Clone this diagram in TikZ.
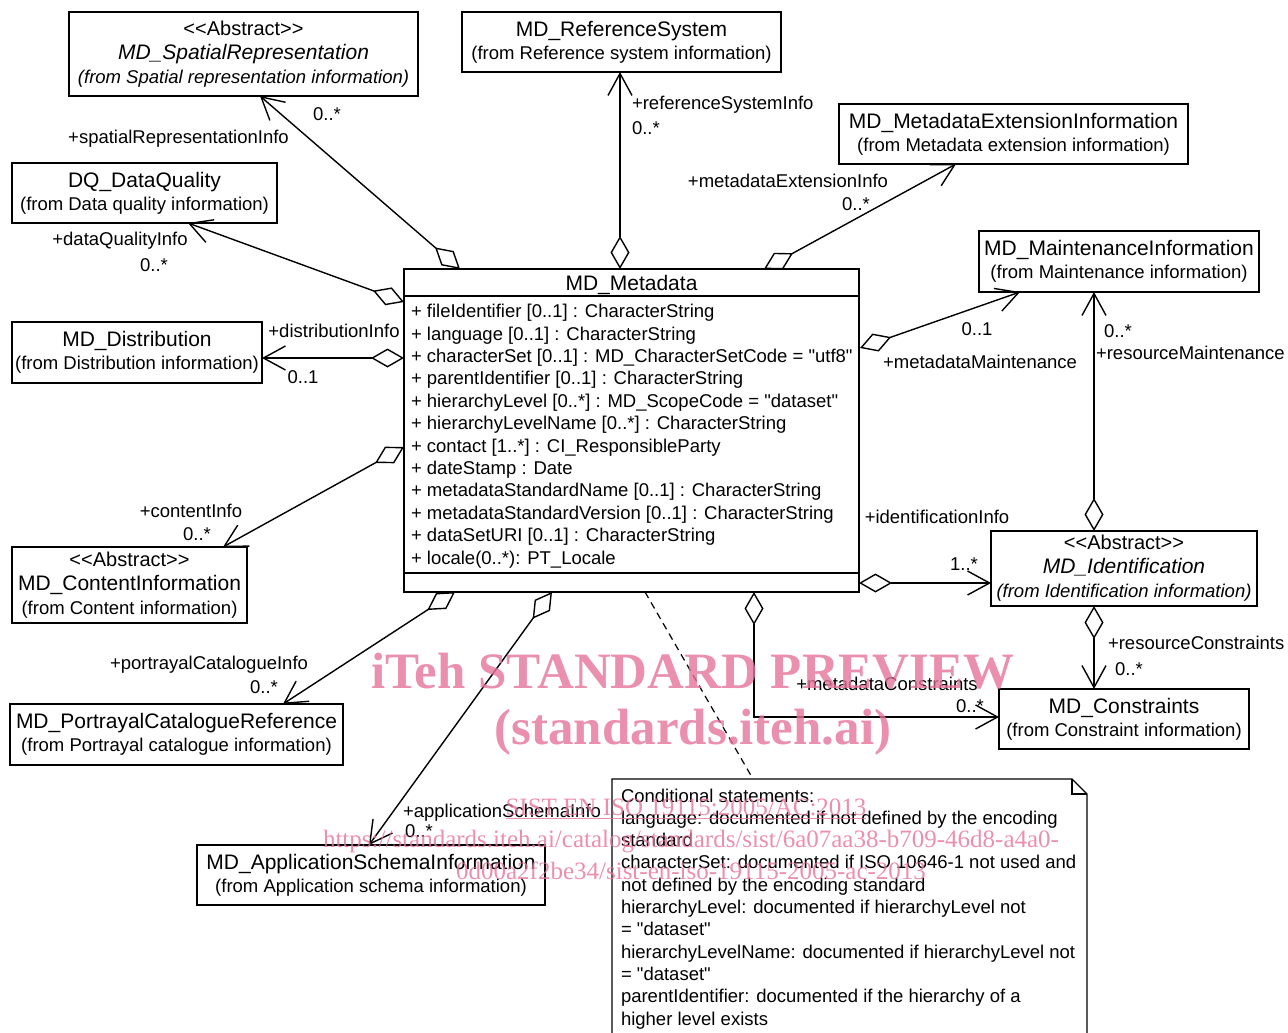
\documentclass[tikz,border=0pt]{standalone}
\usepackage{fontspec}
\newfontfamily\umlf{Liberation Sans}
\newfontfamily\wmf{Liberation Serif}
\usetikzlibrary{arrows.meta,calc}
\definecolor{wmpink}{RGB}{230,115,155}
\begin{document}
\begin{tikzpicture}[x=1pt,y=-1pt,
  every node/.style={font=\umlf\fontsize{18.5}{23}\selectfont, inner sep=0pt, outer sep=0pt},
  cls/.style={draw, line width=1.4pt, align=center, anchor=north west},
  cls3/.style={cls, font=\umlf\fontsize{18.5}{24}\selectfont},
  assoc/.style={line width=1.4pt, {Diamond[open,length=33pt,width=19pt]}-{Straight Barb[length=22pt,width=24pt]}},
  wmbig/.style={text=wmpink, opacity=0.8, font=\wmf\bfseries\fontsize{51}{51}\selectfont},
  wmsmall/.style={text=wmpink, opacity=0.8, font=\wmf\fontsize{25}{25}\selectfont},
]
\useasboundingbox (0,0) rectangle (1288,1033);

% ---------- classes ----------
\node[cls3, minimum width=349pt, minimum height=84pt] (spatial) at (69,12)
  {{\fontsize{20}{24}\selectfont <\kern0pt<Abstract>\kern0pt>}\\{\fontsize{21}{24}\selectfont\itshape MD\_SpatialRepresentation}\\\itshape (from Spatial representation information)};
\node[cls, minimum width=319pt, minimum height=60pt] (refsys) at (462,12)
  {{\fontsize{21}{23}\selectfont MD\_ReferenceSystem}\\(from Reference system information)};
\node[cls, minimum width=349pt, minimum height=60pt] (ext) at (839,104)
  {{\fontsize{21}{23}\selectfont MD\_MetadataExtensionInformation}\\(from Metadata extension information)};
\node[cls, minimum width=265pt, minimum height=60pt] (dq) at (12,163)
  {{\fontsize{21}{23}\selectfont DQ\_DataQuality}\\(from Data quality information)};
\node[cls, minimum width=280pt, minimum height=61pt] (maint) at (979,231)
  {{\fontsize{21}{23}\selectfont MD\_MaintenanceInformation}\\(from Maintenance information)};
\node[cls, minimum width=250pt, minimum height=61pt] (dist) at (12,322)
  {{\fontsize{21}{23}\selectfont MD\_Distribution}\\(from Distribution information)};
\node[cls3, minimum width=235pt, minimum height=76pt] (content) at (12,547)
  {{\fontsize{20}{24}\selectfont <\kern0pt<Abstract>\kern0pt>}\\{\fontsize{21}{24}\selectfont MD\_ContentInformation}\\(from Content information)};
\node[cls3, minimum width=266pt, minimum height=75pt] (ident) at (991,531)
  {{\fontsize{20}{24}\selectfont <\kern0pt<Abstract>\kern0pt>}\\{\fontsize{21}{24}\selectfont\itshape MD\_Identification}\\\itshape (from Identification information)};
\node[cls, minimum width=250pt, minimum height=60pt] (constr) at (999,689)
  {{\fontsize{21}{23}\selectfont MD\_Constraints}\\(from Constraint information)};
\node[cls, minimum width=333pt, minimum height=61pt] (portr) at (10,704)
  {{\fontsize{21}{23}\selectfont MD\_PortrayalCatalogueReference}\\(from Portrayal catalogue information)};
\node[cls, minimum width=348pt, minimum height=60pt] (app) at (197,845)
  {{\fontsize{21}{23}\selectfont MD\_ApplicationSchemaInformation}\\(from Application schema information)};

% ---------- MD_Metadata ----------
\node[cls, minimum width=455pt, minimum height=323pt] (meta) at (404,269) {};
\draw[line width=1.4pt] ($(meta.north west)+(0,27)$) -- ($(meta.north east)+(0,27)$);
\draw[line width=1.4pt] ($(meta.north west)+(0,304)$) -- ($(meta.north east)+(0,304)$);
\node[anchor=base, font=\umlf\fontsize{21}{23}\selectfont] (mtitle) at (631.5,290.5) {MD\_Metadata};
\foreach \t [count=\i] in {
  {+ fileIdentifier [0..1] : CharacterString},
  {+ language [0..1] : CharacterString},
  {+ characterSet [0..1] : MD\_CharacterSetCode = "utf8"},
  {+ parentIdentifier [0..1] : CharacterString},
  {+ hierarchyLevel [0..*] : MD\_ScopeCode = "dataset"},
  {+ hierarchyLevelName [0..*] : CharacterString},
  {+ contact [1..*] : CI\_ResponsibleParty},
  {+ dateStamp : Date},
  {+ metadataStandardName [0..1] : CharacterString},
  {+ metadataStandardVersion [0..1] : CharacterString},
  {+ dataSetURI [0..1] : CharacterString},
  {+ locale(0..*): PT\_Locale}}
  \node[anchor=base west] (attr\i) at (411,{317.6+22.4*(\i-1)}) {\t};

% ---------- note ----------
\node[minimum width=475pt, minimum height=270pt, anchor=north west] (note) at (612,779) {};
\draw[line width=1.4pt] (note.south west) -- (note.north west) -- ($(note.north east)+(-15,0)$)
  -- ($(note.north east)+(0,15)$) -- (note.south east);
\draw[line width=1.2pt] ($(note.north east)+(-15,0)$) |- ($(note.north east)+(0,15)$);
\foreach \t [count=\i] in {
  {Conditional statements:},
  {language: documented if not defined by the encoding},
  {standard},
  {characterSet: documented if ISO 10646-1 not used and},
  {not defined by the encoding standard},
  {hierarchyLevel: documented if hierarchyLevel not},
  {= "dataset"},
  {hierarchyLevelName: documented if hierarchyLevel not},
  {= "dataset"},
  {parentIdentifier: documented if the hierarchy of a},
  {higher level exists}}
  \node[anchor=base west] (nt\i) at (621,{802+22.3*(\i-1)}) {\t};

% ---------- connector end points ----------
\coordinate (mA) at ($(meta.north west)+(56,0)$);
\coordinate (tA) at ($(spatial.south west)+(191,0)$);
\coordinate (mB) at ($(meta.north west)+(216,0)$);
\coordinate (tB) at ($(refsys.south west)+(158,0)$);
\coordinate (mC) at ($(meta.north west)+(360,0)$);
\coordinate (tC) at ($(ext.south west)+(117,0)$);
\coordinate (mD) at ($(meta.north west)+(0,33)$);
\coordinate (tD) at ($(dq.south west)+(176,0)$);
\coordinate (mE) at ($(meta.north west)+(0,89)$);
\coordinate (tE) at ($(dist.north east)+(0,36)$);
\coordinate (mF) at ($(meta.north west)+(0,178)$);
\coordinate (tF) at ($(content.north west)+(211,0)$);
\coordinate (mG) at ($(meta.south west)+(51,0)$);
\coordinate (tG) at ($(portr.north west)+(273,0)$);
\coordinate (mH) at ($(meta.south west)+(148,0)$);
\coordinate (tH) at ($(app.north west)+(172,0)$);
\coordinate (mI) at ($(meta.south west)+(350,0)$);
\coordinate (tI) at ($(constr.north west)+(0,28)$);
\coordinate (mJ) at ($(meta.north east)+(0,314)$);
\coordinate (tJ) at ($(ident.north west)+(0,52)$);
\coordinate (mK) at ($(meta.north east)+(1,79)$);
\coordinate (tK) at ($(maint.south west)+(41,0)$);
\coordinate (iL) at ($(ident.north west)+(103,0)$);
\coordinate (tL) at ($(maint.south west)+(115,0)$);
\coordinate (iM) at ($(ident.south west)+(103,0)$);
\coordinate (tM) at ($(constr.north west)+(95,0)$);
\coordinate (mN) at ($(meta.south west)+(241,0)$);
\coordinate (tN) at ($(note.north west)+(141,0)$);

% ---------- connectors ----------
\draw[assoc] (mA) -- (tA);
\draw[assoc] (mB) -- (tB);
\draw[assoc] (mC) -- (tC);
\draw[assoc] (mD) -- (tD);
\draw[assoc] (mE) -- (tE);
\draw[assoc] (mF) -- (tF);
\draw[assoc] (mG) -- (tG);
\draw[assoc] (mH) -- (tH);
\draw[assoc] (mI) |- (tI);
\draw[assoc] (mJ) -- (tJ);
\draw[assoc] (mK) -- (tK);
\draw[assoc] (iL) -- (tL);
\draw[assoc] (iM) -- (tM);
\draw[line width=1.2pt, dash pattern=on 7pt off 5pt] (mN) -- (tN);

% ---------- role labels ----------
\node[anchor=base] (lA1) at (178.5,143) {+spatialRepresentationInfo};
\node[anchor=base] (lA2) at (327,120) {0..*};
\node[anchor=base west] (lB1) at (632,110) {+referenceSystemInfo};
\node[anchor=base west] (lB2) at (632,134) {0..*};
\node[anchor=base] (lC1) at (788,187) {+metadataExtensionInfo};
\node[anchor=base] (lC2) at (856,210) {0..*};
\node[anchor=base] (lD1) at (120,245) {+dataQualityInfo};
\node[anchor=base] (lD2) at (154,271) {0..*};
\node[anchor=base] (lE1) at (334,337) {+distributionInfo};
\node[anchor=base] (lE2) at (303,383) {0..1};
\node[anchor=base] (lF1) at (191,517) {+contentInfo};
\node[anchor=base] (lF2) at (197,540) {0..*};
\node[anchor=base] (lG1) at (209,669) {+portrayalCatalogueInfo};
\node[anchor=base] (lG2) at (264,693) {0..*};
\node[anchor=base] (lH1) at (502,817) {+applicationSchemaInfo};
\node[anchor=base] (lH2) at (419,837) {0..*};
\node[anchor=base] (lI1) at (887,690) {+metadataConstraints};
\node[anchor=base] (lI2) at (970,712) {0..*};
\node[anchor=base] (lJ1) at (937,523) {+identificationInfo};
\node[anchor=base] (lJ2) at (964,570) {1..*};
\node[anchor=base] (lK1) at (977,335) {0..1};
\node[anchor=base] (lK2) at (980,368) {+metadataMaintenance};
\node[anchor=base] (lL1) at (1118,337) {0..*};
\node[anchor=base west] (lL2) at (1096,359) {+resourceMaintenance};
\node[anchor=base west] (lM1) at (1108,649) {+resourceConstraints};
\node[anchor=base] (lM2) at (1129,675) {0..*};

% ---------- watermark ----------
\node[wmbig, anchor=base] (wm1) at (693,688) {iTeh STANDARD PREVIEW};
\node[wmbig, anchor=base] (wm2) at (693,744) {(standards.iteh.ai)};
\node[wmsmall, anchor=base] (wm3) at (686,815) {SIST EN ISO 19115:2005/AC:2013};
\draw[wmpink, opacity=0.8, line width=1pt] ($(wm3.base west)+(0,3)$) -- ($(wm3.base east)+(0,3)$);
\node[wmsmall, anchor=base] (wm4) at (691,847) {https://standards.iteh.ai/catalog/standards/sist/6a07aa38-b709-46d8-a4a0-};
\node[wmsmall, anchor=base] (wm5) at (691,879) {0d00a2f2be34/sist-en-iso-19115-2005-ac-2013};
\end{tikzpicture}
\end{document}
